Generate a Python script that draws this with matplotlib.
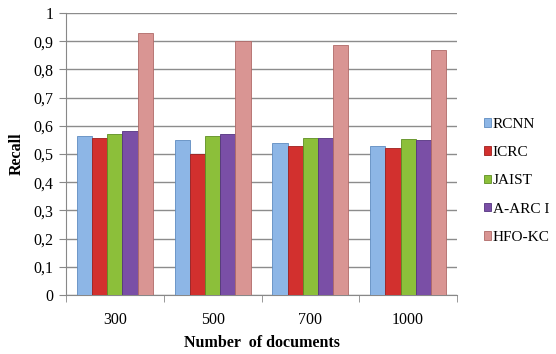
import numpy as np
import matplotlib
matplotlib.use("Agg")
import matplotlib.pyplot as plt

# data
categories = ["300", "500", "700", "1000"]
methods = ["RCNN", "ICRC", "JAIST", "A-ARC I", "HFO-KC"]
rcnn = [0.565, 0.548, 0.540, 0.530]
icrc = [0.558, 0.500, 0.530, 0.523]
jaist = [0.572, 0.563, 0.558, 0.553]
aarc = [0.580, 0.572, 0.558, 0.550]
hfo = [0.930, 0.902, 0.888, 0.868]
y_ticks = [0, 0.1, 0.2, 0.3, 0.4, 0.5, 0.6, 0.7, 0.8, 0.9, 1]

series = [rcnn, icrc, jaist, aarc, hfo]
colors = ["#8DB6E6", "#D2302E", "#8CBF3A", "#7A4FA6", "#D99593"]
edges = ["#5F8CC0", "#9E1F1D", "#5E8E22", "#543480", "#B06A68"]

plt.rcParams["font.family"] = ["Liberation Serif", "DejaVu Serif"]

fig = plt.figure(figsize=(5.56, 3.54), dpi=100)
ax = fig.add_axes([66 / 556, 1 - 295 / 354, (457 - 66) / 556, (295 - 13) / 354])

x = np.arange(len(categories))
bw = 0.155
for i, (vals, name) in enumerate(zip(series, methods)):
    ax.bar(x + (i - 2) * bw, vals, bw, color=colors[i], edgecolor=edges[i],
           linewidth=0.6, label=name, zorder=3)

ax.set_xlim(-0.5, len(categories) - 0.5)
ax.set_ylim(0, 1)
ax.set_yticks(y_ticks)
ax.set_yticklabels([("%g" % v).replace(".", ",") for v in y_ticks], fontsize=11.5)
ax.set_xticks(x)
ax.set_xticklabels(categories, fontsize=11.5)
ax.set_xticks(np.arange(-0.5, len(categories)), minor=True)
ax.tick_params(axis="x", which="major", length=0, pad=12)
ax.tick_params(axis="x", which="minor", length=5, color="#888888")
ax.tick_params(axis="y", length=5, color="#888888", pad=4)

ax.grid(axis="y", color="#8C8C8C", linewidth=1.0, zorder=0)
for s in ["top", "right"]:
    ax.spines[s].set_visible(False)
for s in ["left", "bottom"]:
    ax.spines[s].set_color("#888888")

ax.set_ylabel("Recall", fontsize=11.5, fontweight="bold", labelpad=6)
ax.set_xlabel("Number  of documents", fontsize=11.5, fontweight="bold", labelpad=5)

ax.legend(loc="center left", bbox_to_anchor=(1.068, 0.405), frameon=False,
          fontsize=11, handlelength=0.5, handleheight=0.5, handletextpad=0.1,
          labelspacing=1.0, borderaxespad=0, borderpad=0)

fig.savefig("out.png", dpi=100)
